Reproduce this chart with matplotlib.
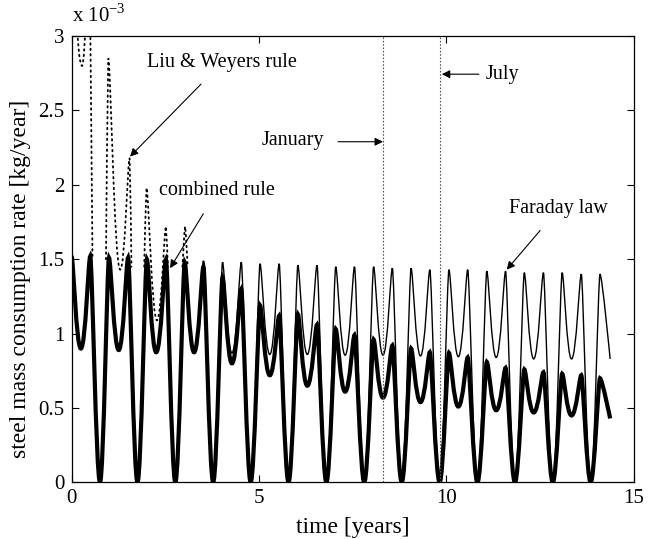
import matplotlib
matplotlib.use('Agg')
import matplotlib.pyplot as plt
from matplotlib.path import Path
from matplotlib.patches import PathPatch

plt.rcParams['font.family'] = ['Liberation Serif', 'DejaVu Serif']
plt.rcParams['mathtext.fontset'] = 'custom'
plt.rcParams['mathtext.rm'] = 'Liberation Serif'

# times [years]
t_peak = [0.0, 0.5, 1.0, 1.51, 2.01, 2.52, 3.02, 3.52, 4.03, 4.53, 5.03, 5.54,
          6.04, 6.55, 7.05, 7.55, 8.06, 8.56, 9.06, 9.56, 10.07, 10.57, 11.08,
          11.58, 12.08, 12.59, 13.09, 13.6, 14.1]
t_summer = [0.25, 1.26, 2.26, 3.27, 4.28, 5.29, 6.29, 7.3, 8.31, 9.31, 10.32,
            11.33, 12.33, 13.34, 14.37]
t_winter = [0.76, 1.76, 2.77, 3.78, 4.78, 5.79, 6.8, 7.81, 8.81, 9.82, 10.83,
            11.83, 12.84, 13.85]

# rates [1e-3 kg/year]
faraday_peak = [1.52, 1.52, 1.51, 1.51, 1.50, 1.50, 1.49, 1.49, 1.48, 1.48,
                1.47, 1.47, 1.46, 1.46, 1.45, 1.45, 1.45, 1.44, 1.44, 1.43,
                1.43, 1.43, 1.42, 1.42, 1.41, 1.41, 1.41, 1.40, 1.40]
faraday_summer = [0.90, 0.89, 0.88, 0.875, 0.87, 0.86, 0.86, 0.855, 0.855,
                  0.85, 0.845, 0.84, 0.83, 0.83, 0.83]
combined_peak = [1.52, 1.52, 1.51, 1.51, 1.50, 1.50, 1.48, 1.45, 1.38, 1.30,
                 1.19, 1.12, 1.13, 1.06, 1.03, 0.99, 0.96, 0.92, 0.90, 0.875,
                 0.87, 0.84, 0.81, 0.77, 0.76, 0.74, 0.73, 0.72, 0.70]
combined_summer = [0.90, 0.89, 0.875, 0.875, 0.80, 0.72, 0.65, 0.61, 0.57,
                   0.54, 0.51, 0.485, 0.47, 0.45, 0.43]

# Liu & Weyers rule, only the parts standing above the other curves
liu_t = [[0.0, 0.28, 0.47, 0.56],
         [0.92, 0.98, 1.3, 1.55, 1.6],
         [1.94, 2.0, 2.28, 2.52, 2.57],
         [2.96, 3.03, 3.1]]
liu_v = [[3.6, 2.8, 3.6, 1.5],
         [1.5, 2.85, 1.43, 2.18, 1.45],
         [1.45, 1.98, 1.09, 1.72, 1.45],
         [1.45, 1.72, 1.45]]
liu_kind = [['p', 't', 'p', 'e'],
            ['e', 'p', 't', 'p', 'e'],
            ['e', 'p', 't', 'p', 'e'],
            ['e', 'p', 'e']]

t_january = 8.31
t_july = 9.83

handle = {'p': 0.2, 't': 0.5, 'z': 0.4, 'e': 0.0}


def key_points(peaks, summer):
    ts, vs, ks = [], [], []
    for j in range(len(t_winter)):
        ts += [t_peak[2*j], t_summer[j], t_peak[2*j+1], t_winter[j]]
        vs += [peaks[2*j], summer[j], peaks[2*j+1], 0.0]
        ks += ['p', 't', 'p', 'z']
    ts += [t_peak[-1], t_summer[-1]]
    vs += [peaks[-1], summer[-1]]
    ks += ['p', 'e']
    return ts, vs, ks


def smooth(ts, vs, ks):
    verts = [(ts[0], vs[0])]
    codes = [Path.MOVETO]
    for i in range(len(ts) - 1):
        dt = ts[i+1] - ts[i]
        verts += [(ts[i] + handle[ks[i]]*dt, vs[i]),
                  (ts[i+1] - handle[ks[i+1]]*dt, vs[i+1]),
                  (ts[i+1], vs[i+1])]
        codes += [Path.CURVE4]*3
    return Path(verts, codes)


fig = plt.figure(figsize=(6.5, 5.39), dpi=100)
ax = fig.add_axes([0.11, 0.105, 0.865, 0.828])

for t in [t_january, t_july]:
    ax.axvline(t, color='0.35', lw=0.8, ls=(0, (1.5, 1.5)))

for ts, vs, ks in zip(liu_t, liu_v, liu_kind):
    ax.add_patch(PathPatch(smooth(ts, vs, ks), fill=False, ec='k', lw=1.3,
                           ls=(0, (0.8, 2.2)), capstyle='round'))

ax.add_patch(PathPatch(smooth(*key_points(faraday_peak, faraday_summer)),
                       fill=False, ec='k', lw=1.0))
ax.add_patch(PathPatch(smooth(*key_points(combined_peak, combined_summer)),
                       fill=False, ec='k', lw=3.0))

ax.set_xlim(0, 15)
ax.set_ylim(0, 3)
ax.set_xticks([0, 5, 10, 15])
ax.set_yticks([0, 0.5, 1, 1.5, 2, 2.5, 3])
ax.set_yticklabels(['0', '0.5', '1', '1.5', '2', '2.5', '3'])
ax.tick_params(direction='in', top=True, right=True, labelsize=15, length=5,
               width=0.8, pad=5)
for s in ax.spines.values():
    s.set_linewidth(0.9)

ax.set_xlabel('time [years]', fontsize=17, labelpad=6)
ax.set_ylabel('steel mass consumption rate [kg/year]', fontsize=17)
ax.yaxis.set_label_coords(-0.072, 0.455)
ax.text(0.0, 3.06, r'x 10$^{-3}$', fontsize=15, ha='left', va='bottom')

arrow = dict(arrowstyle='-|>', color='k', lw=0.8, mutation_scale=12,
             shrinkA=0, shrinkB=0)
ax.annotate('Liu & Weyers rule', xy=(1.56, 2.19), xytext=(4.01, 2.82),
            fontsize=14.5, ha='center', va='center',
            arrowprops=dict(arrow, shrinkA=9))
ax.annotate('combined rule', xy=(2.63, 1.44), xytext=(3.89, 1.96),
            fontsize=14.5, ha='center', va='center',
            arrowprops=dict(arrow, shrinkA=9))
ax.annotate('', xy=(t_january, 2.29), xytext=(7.11, 2.29), arrowprops=arrow)
ax.text(6.73, 2.30, 'January', fontsize=14.5, ha='right', va='center')
ax.annotate('', xy=(9.88, 2.744), xytext=(10.87, 2.744), arrowprops=arrow)
ax.text(11.05, 2.744, 'July', fontsize=14.5, ha='left', va='center')
ax.annotate('Faraday law', xy=(11.61, 1.43), xytext=(13.0, 1.84),
            fontsize=14.5, ha='center', va='center',
            arrowprops=dict(arrow, shrinkA=9))

fig.savefig('out.png', dpi=100)
